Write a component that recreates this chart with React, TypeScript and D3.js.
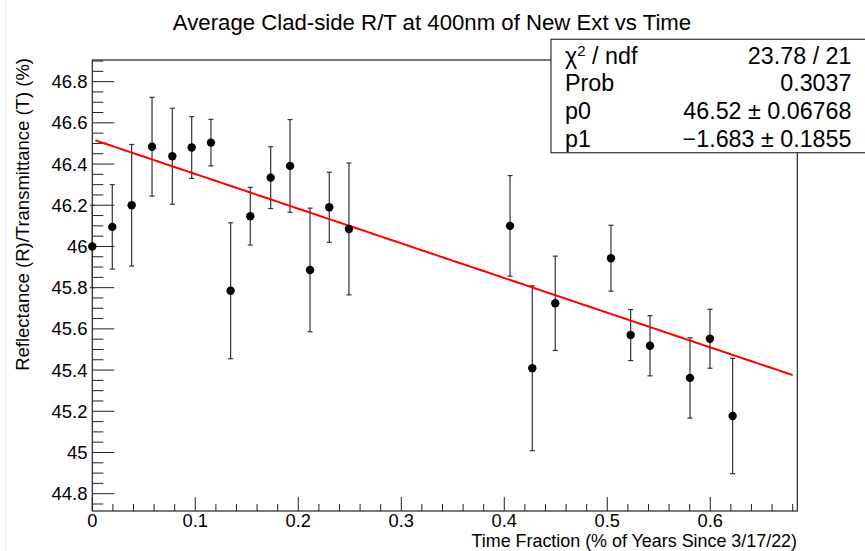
import React from "react";
import * as d3 from "d3";

const xs = [0, 0.0194, 0.0382, 0.058, 0.0777, 0.0965, 0.1152, 0.1343, 0.1534, 0.1732, 0.192, 0.2114, 0.2301, 0.2492, 0.4056, 0.4272, 0.4495, 0.5036, 0.5227, 0.5415, 0.5803, 0.5997, 0.6217];
const ys = [46.0, 46.095, 46.2, 46.484, 46.438, 46.48, 46.504, 45.785, 46.147, 46.334, 46.391, 45.886, 46.19, 46.085, 46.1, 45.409, 45.724, 45.943, 45.57, 45.518, 45.362, 45.552, 45.177];
const errs = [0.2, 0.205, 0.295, 0.24, 0.233, 0.15, 0.113, 0.33, 0.14, 0.15, 0.225, 0.3, 0.17, 0.32, 0.244, 0.4, 0.229, 0.16, 0.124, 0.146, 0.195, 0.143, 0.28];
const p0 = 46.52;
const p1 = -1.683;
const fitRange = [0.003, 0.68];
const xMajorTicks = [0, 0.1, 0.2, 0.3, 0.4, 0.5, 0.6];
const yMajorTicks = [44.8, 45, 45.2, 45.4, 45.6, 45.8, 46, 46.2, 46.4, 46.6, 46.8];
const statsLabels = ["χ² / ndf", "Prob", "p0", "p1"];
const statsValues = ["23.78 / 21", "0.3037", "46.52 ± 0.06768", "−1.683 ± 0.1855"];

const W = 865, H = 551;
const L = 92.3, R = 797.3, T = 60, B = 511;
const FONT = "'Liberation Sans', Arial, Helvetica, sans-serif";

export default function App() {
  const x = d3.scaleLinear().domain([0, 0.6845]).range([L, R]);
  const y = d3.scaleLinear().domain([44.716, 46.905]).range([B, T]);

  const xMinor = d3.range(0, 0.6845, 0.02).filter((v) => Math.abs(Math.round(v * 10) - v * 10) > 1e-6);
  const yMinor = d3.range(44.75, 46.905, 0.05).filter((v) => Math.abs(Math.round(v * 5) - v * 5) > 1e-6);

  const fitLine = d3.line<number>().x((v) => x(v)).y((v) => y(p0 + p1 * v));
  const fitPts = d3.range(fitRange[0], fitRange[1] + 1e-9, (fitRange[1] - fitRange[0]) / 100);

  const fmt = (v: number) => {
    const s = d3.format(".1f")(v);
    return s.endsWith(".0") ? s.slice(0, -2) : s;
  };

  return (
    <svg width={W} height={H} style={{ position: "absolute", left: 0, top: 0, background: "#fff" }} fontFamily={FONT}>
      <rect x={0} y={0} width={W} height={H} fill="#fff" />
      <line x1={5.5} x2={5.5} y1={0} y2={H} stroke="#ececec" strokeWidth={1} />
      <text x={432} y={30} textAnchor="middle" fontSize={22.2} fill="#000">
        Average Clad-side R/T at 400nm of New Ext vs Time
      </text>

      {/* frame */}
      <rect x={L} y={T} width={R - L} height={B - T} fill="none" stroke="#222" strokeWidth={1.2} />

      {/* x ticks */}
      {xMajorTicks.map((v) => (
        <g key={"xm" + v}>
          <line x1={x(v)} x2={x(v)} y1={B} y2={B - 14} stroke="#222" strokeWidth={1} />
          <text x={x(v)} y={526.5} textAnchor="middle" fontSize={18.3} fill="#000">{fmt(v)}</text>
        </g>
      ))}
      {xMinor.map((v) => (
        <line key={"xn" + v} x1={x(v)} x2={x(v)} y1={B} y2={B - 7} stroke="#222" strokeWidth={1} />
      ))}

      {/* y ticks */}
      {yMajorTicks.map((v) => (
        <g key={"ym" + v}>
          <line x1={L} x2={L + 22} y1={y(v)} y2={y(v)} stroke="#222" strokeWidth={1} />
          <text x={87.5} y={y(v) + 6.5} textAnchor="end" fontSize={18.5} fill="#000">{fmt(v)}</text>
        </g>
      ))}
      {yMinor.map((v) => (
        <line key={"yn" + v} x1={L} x2={L + 11} y1={y(v)} y2={y(v)} stroke="#222" strokeWidth={1} />
      ))}

      {/* axis titles */}
      <text x={797} y={546.5} textAnchor="end" fontSize={17.9} fill="#000">
        Time Fraction (% of Years Since 3/17/22)
      </text>
      <text transform={`translate(29,${T - 2}) rotate(-90)`} textAnchor="end" fontSize={18.5} fill="#000">
        Reflectance (R)/Transmittance (T) (%)
      </text>

      {/* error bars */}
      {xs.map((xv, i) => (
        <g key={"e" + i} stroke="#333" strokeWidth={1.2}>
          <line x1={x(xv)} x2={x(xv)} y1={y(ys[i] - errs[i])} y2={y(ys[i] + errs[i])} />
          <line x1={x(xv) - 2.5} x2={x(xv) + 2.5} y1={y(ys[i] - errs[i])} y2={y(ys[i] - errs[i])} />
          <line x1={x(xv) - 2.5} x2={x(xv) + 2.5} y1={y(ys[i] + errs[i])} y2={y(ys[i] + errs[i])} />
        </g>
      ))}

      {/* fit */}
      <path d={fitLine(fitPts) || ""} fill="none" stroke="#ff0000" strokeWidth={2} />

      {/* points */}
      {xs.map((xv, i) => (
        <circle key={"p" + i} cx={x(xv)} cy={y(ys[i])} r={4.2} fill="#000" />
      ))}

      {/* stats box */}
      <rect x={551} y={39.3} width={330} height={113.4} fill="#fff" stroke="#333" strokeWidth={1.2} />
      {statsLabels.map((s, i) => (
        <text key={"sl" + i} x={565} y={63.5 + i * 27.8} fontSize={23.3} fill="#000">
          {i === 0 ? (<>χ<tspan fontSize={15} dy={-8}>2</tspan><tspan dy={8}> / ndf</tspan></>) : s}
        </text>
      ))}
      {statsValues.map((s, i) => (
        <text key={"sv" + i} x={851.5} y={63.5 + i * 27.8} textAnchor="end" fontSize={23.3} fill="#000">{s}</text>
      ))}
    </svg>
  );
}
